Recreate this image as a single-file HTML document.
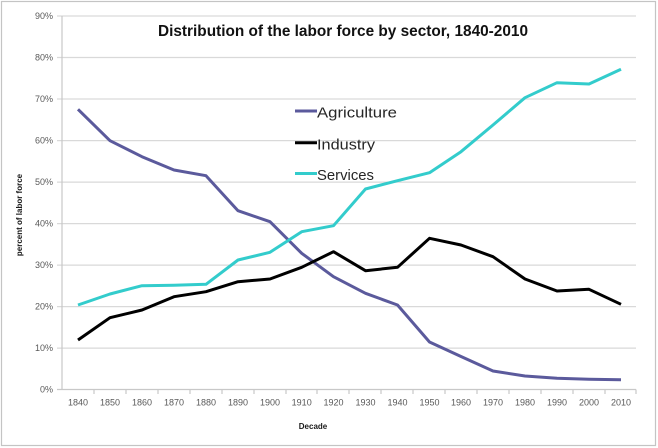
<!DOCTYPE html>
<html><head><meta charset="utf-8"><style>
html,body{margin:0;padding:0;background:#fff;}
svg{display:block;}
</style></head><body>
<svg width="658" height="448" viewBox="0 0 658 448" xmlns="http://www.w3.org/2000/svg" font-family="'Liberation Sans', sans-serif">
<rect x="1.5" y="1.5" width="654" height="444" fill="#fff" stroke="#c4c4c4" stroke-width="1.2"/>
<g stroke="#d9d9d9" stroke-width="1.2">
<line x1="57" y1="16" x2="636" y2="16"/>
<line x1="57" y1="57.5" x2="636" y2="57.5"/>
<line x1="57" y1="99" x2="636" y2="99"/>
<line x1="57" y1="140.6" x2="636" y2="140.6"/>
<line x1="57" y1="182.1" x2="636" y2="182.1"/>
<line x1="57" y1="223.6" x2="636" y2="223.6"/>
<line x1="57" y1="265.1" x2="636" y2="265.1"/>
<line x1="57" y1="306.6" x2="636" y2="306.6"/>
<line x1="57" y1="348.1" x2="636" y2="348.1"/>
</g>
<g stroke="#c8c8c8" stroke-width="1.2">
<line x1="62" y1="16" x2="62" y2="389.5"/>
<line x1="57" y1="389.5" x2="636" y2="389.5"/>
<line x1="94" y1="389.5" x2="94" y2="394"/>
<line x1="126" y1="389.5" x2="126" y2="394"/>
<line x1="158" y1="389.5" x2="158" y2="394"/>
<line x1="190" y1="389.5" x2="190" y2="394"/>
<line x1="222" y1="389.5" x2="222" y2="394"/>
<line x1="254" y1="389.5" x2="254" y2="394"/>
<line x1="286" y1="389.5" x2="286" y2="394"/>
<line x1="317" y1="389.5" x2="317" y2="394"/>
<line x1="349" y1="389.5" x2="349" y2="394"/>
<line x1="381" y1="389.5" x2="381" y2="394"/>
<line x1="413" y1="389.5" x2="413" y2="394"/>
<line x1="445" y1="389.5" x2="445" y2="394"/>
<line x1="477" y1="389.5" x2="477" y2="394"/>
<line x1="509" y1="389.5" x2="509" y2="394"/>
<line x1="541" y1="389.5" x2="541" y2="394"/>
<line x1="573" y1="389.5" x2="573" y2="394"/>
<line x1="605" y1="389.5" x2="605" y2="394"/>
<line x1="636" y1="389.5" x2="636" y2="394"/>
</g>
<g font-size="9" fill="#595959" text-anchor="end">
<text x="53" y="19">90%</text>
<text x="53" y="60.5">80%</text>
<text x="53" y="102">70%</text>
<text x="53" y="143.6">60%</text>
<text x="53" y="185.1">50%</text>
<text x="53" y="226.6">40%</text>
<text x="53" y="268.1">30%</text>
<text x="53" y="309.6">20%</text>
<text x="53" y="351.1">10%</text>
<text x="53" y="392.5">0%</text>
</g>
<g font-size="9" fill="#595959" text-anchor="middle">
<text x="78" y="405.5">1840</text>
<text x="110" y="405.5">1850</text>
<text x="142" y="405.5">1860</text>
<text x="174" y="405.5">1870</text>
<text x="206" y="405.5">1880</text>
<text x="238" y="405.5">1890</text>
<text x="270" y="405.5">1900</text>
<text x="301.7" y="405.5">1910</text>
<text x="333.5" y="405.5">1920</text>
<text x="365.5" y="405.5">1930</text>
<text x="397.5" y="405.5">1940</text>
<text x="429.5" y="405.5">1950</text>
<text x="461" y="405.5">1960</text>
<text x="493" y="405.5">1970</text>
<text x="525" y="405.5">1980</text>
<text x="557" y="405.5">1990</text>
<text x="589" y="405.5">2000</text>
<text x="621" y="405.5">2010</text>
</g>
<text x="313" y="429" font-size="8" font-weight="bold" fill="#1a1a1a" text-anchor="middle">Decade</text>
<text transform="translate(22,215) rotate(-90)" font-size="8" font-weight="bold" fill="#1a1a1a" text-anchor="middle">percent of labor force</text>
<text x="158" y="36" font-size="15.5" font-weight="bold" fill="#111" textLength="370" lengthAdjust="spacingAndGlyphs">Distribution of the labor force by sector, 1840-2010</text>
<g fill="none" stroke-width="3" stroke-linejoin="round" stroke-linecap="butt">
<polyline stroke="#5b5a9c" points="78,109.3 110,140.7 142,156.7 174,170 206,175.7 238,210.7 270,221.7 301.7,253.3 333.5,276.7 365.5,293.3 397.5,305 429.5,342 461,356.5 493,371 525,376 557,378.3 589,379.3 621,379.7"/>
<polyline stroke="#000" points="78,340 110,317.7 142,310 174,296.7 206,291.7 238,281.7 270,279 301.7,267.3 333.5,251.7 365.5,270.7 397.5,267.3 429.5,238.3 461,245 493,256.7 525,279 557,291 589,289.3 621,304.3"/>
<polyline stroke="#33cccc" points="78,305 110,294 142,285.7 174,285.3 206,284.3 238,260 270,252.3 301.7,231.7 333.5,225.7 365.5,189 397.5,180.7 429.5,172.7 461,151.7 493,125 525,97.7 557,82.7 589,84 621,69.3"/>
</g>
<g stroke-width="3">
<line x1="295" y1="111" x2="317" y2="111" stroke="#5b5a9c"/>
<line x1="295" y1="142.7" x2="317" y2="142.7" stroke="#000"/>
<line x1="295" y1="173.5" x2="317" y2="173.5" stroke="#33cccc"/>
</g>
<g font-size="15" fill="#262626">
<text x="317" y="117.5" textLength="80" lengthAdjust="spacingAndGlyphs">Agriculture</text>
<text x="317" y="149.5" textLength="58" lengthAdjust="spacingAndGlyphs">Industry</text>
<text x="317" y="180" textLength="57" lengthAdjust="spacingAndGlyphs">Services</text>
</g>
</svg>
</body></html>
